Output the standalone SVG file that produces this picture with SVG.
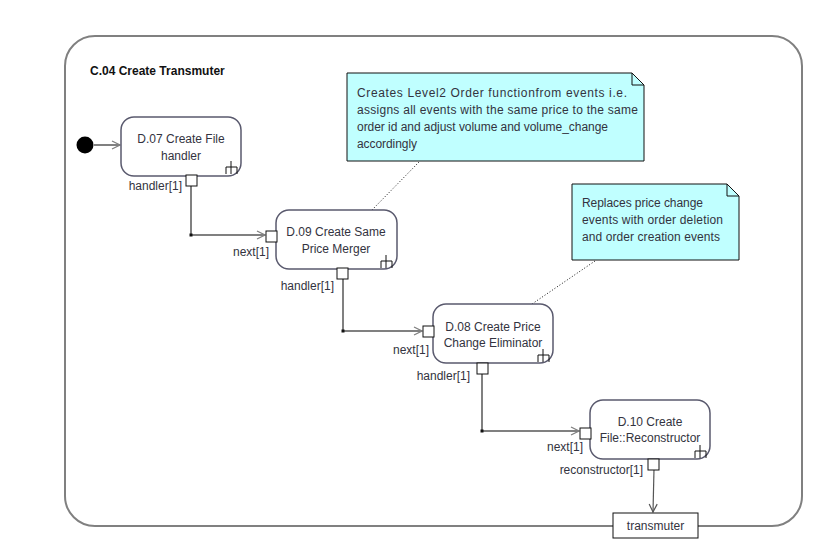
<svg xmlns="http://www.w3.org/2000/svg" width="813" height="549" viewBox="0 0 813 549">
<defs>
<marker id="open" viewBox="0 0 10 10" refX="9" refY="5" markerWidth="10" markerHeight="10" markerUnits="userSpaceOnUse" orient="auto">
<path d="M1,1 L9,5 L1,9" fill="none" stroke="#808080" stroke-width="1.3"/>
</marker>
<marker id="open2" viewBox="0 0 10 10" refX="9" refY="5" markerWidth="10" markerHeight="10" markerUnits="userSpaceOnUse" orient="auto">
<path d="M1,1 L9,5 L1,9" fill="none" stroke="#555" stroke-width="1.2"/>
</marker>
</defs>
<style>
text{font-family:"Liberation Sans",Arial,sans-serif;font-size:12px;fill:#333340}
.title{font-weight:bold;fill:#111}
.c{text-anchor:middle}
.r{text-anchor:end}
.node{fill:#fff;stroke:#5a5a6e;stroke-width:1.5}
.port{fill:#fff;stroke:#111;stroke-width:1}
.rake{fill:none;stroke:#111;stroke-width:1}
.flow{fill:none;stroke:#808080;stroke-width:2}
.note{fill:#c0ffff;stroke:#111;stroke-width:1}
.anchor{fill:none;stroke:#111;stroke-width:1;stroke-dasharray:1 2}
</style>
<rect width="813" height="549" fill="#fff"/>
<g id="frame">
<rect x="65" y="36" width="737" height="490" rx="30" ry="30" fill="none" stroke="#808080" stroke-width="2"/>
<text x="90" y="75" class="title">C.04 Create Transmuter</text>
</g>
<g id="connectors">
<line x1="94" y1="145" x2="120" y2="145" class="flow" marker-end="url(#open)"/>
<polyline points="191,186 191,235 265,235" class="flow" marker-end="url(#open)"/>
<rect x="189.5" y="233.5" width="3" height="3" fill="#111"/>
<polyline points="343,279 343,331 422,331" class="flow" marker-end="url(#open)"/>
<rect x="341.5" y="329.5" width="3" height="3" fill="#111"/>
<polyline points="482,374 482,431 579,431" class="flow" marker-end="url(#open)"/>
<rect x="480.5" y="429.5" width="3" height="3" fill="#111"/>
<line x1="654" y1="469" x2="653" y2="512" stroke="#555" stroke-width="1.2" marker-end="url(#open2)"/>
<line x1="419" y1="162" x2="372" y2="210" class="anchor"/>
<line x1="595" y1="261" x2="532" y2="304" class="anchor"/>
</g>
<g id="start">
<circle cx="85" cy="145" r="8.5" fill="#000"/>
</g>
<g id="d07">
<rect x="121" y="117" width="120" height="59" rx="13" ry="13" class="node"/>
<text x="181" y="143" class="c">D.07 Create File</text>
<text x="181" y="160" class="c">handler</text>
<path d="M231,161 V174 M226,174 V167 H237 V174" class="rake"/>
<rect x="186" y="175" width="11" height="11" class="port"/>
<text x="182" y="190" class="r">handler[1]</text>
</g>
<g id="d09">
<rect x="276" y="210" width="121" height="59" rx="13" ry="13" class="node"/>
<text x="336" y="236" class="c">D.09 Create Same</text>
<text x="336" y="253" class="c">Price Merger</text>
<path d="M386,255 V268 M381,268 V261 H392 V268" class="rake"/>
<rect x="266" y="231" width="11" height="11" class="port"/>
<text x="269" y="256" class="r">next[1]</text>
<rect x="337" y="268" width="11" height="11" class="port"/>
<text x="334" y="290" class="r">handler[1]</text>
</g>
<g id="d08">
<rect x="433" y="304" width="120" height="59" rx="13" ry="13" class="node"/>
<text x="493" y="331" class="c">D.08 Create Price</text>
<text x="493" y="347" class="c">Change Eliminator</text>
<path d="M543,349 V362 M538,362 V355 H549 V362" class="rake"/>
<rect x="423" y="326" width="11" height="11" class="port"/>
<text x="429" y="354" class="r">next[1]</text>
<rect x="477" y="363" width="11" height="11" class="port"/>
<text x="470" y="380" class="r">handler[1]</text>
</g>
<g id="d10">
<rect x="590" y="400" width="120" height="59" rx="13" ry="13" class="node"/>
<text x="650" y="426" class="c">D.10 Create</text>
<text x="650" y="442" class="c">File::Reconstructor</text>
<path d="M700,445 V458 M695,458 V451 H706 V458" class="rake"/>
<rect x="580" y="428" width="11" height="11" class="port"/>
<text x="583" y="451" class="r">next[1]</text>
<rect x="648" y="459" width="11" height="11" class="port"/>
<text x="643" y="474" class="r">reconstructor[1]</text>
</g>
<g id="transmuter">
<rect x="613" y="513" width="85" height="25" fill="#fff" stroke="#111" stroke-width="1"/>
<text x="655.5" y="530" class="c">transmuter</text>
</g>
<g id="note1">
<path d="M347,73 H632 L644,85 V161 H347 Z" class="note"/>
<path d="M632,73 V85 H644" fill="none" stroke="#111" stroke-width="1"/>
<text x="357" y="97" textLength="270">Creates Level2 Order functionfrom events i.e.</text>
<text x="357" y="114" textLength="281">assigns all events with the same price to the same</text>
<text x="357" y="131" textLength="251">order id and adjust volume and volume_change</text>
<text x="357" y="148" textLength="60">accordingly</text>
</g>
<g id="note2">
<path d="M572,184 H727 L739,196 V260 H572 Z" class="note"/>
<path d="M727,184 V196 H739" fill="none" stroke="#111" stroke-width="1"/>
<text x="582" y="207" textLength="121">Replaces price change</text>
<text x="582" y="224" textLength="141">events with order deletion</text>
<text x="582" y="241" textLength="138">and order creation events</text>
</g>
</svg>
